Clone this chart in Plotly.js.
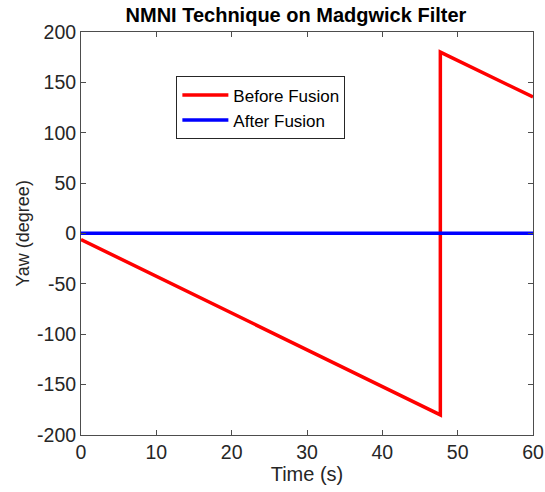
<!DOCTYPE html>
<html>
<head>
<meta charset="utf-8">
<script src="https://cdn.plot.ly/plotly-3.0.1.min.js"></script>
<style>html,body{margin:0;padding:0;background:#fff;}#chart{width:545px;height:492px;}</style>
</head>
<body>
<div id="chart"></div>
<script>
const beforeTime = [0, 47.7, 47.7, 60];
const beforeYaw = [-6, -180, 180, 135.5];
const afterTime = [0, 60];
const afterYaw = [0.3, 0.3];
const seriesNames = ["Before Fusion", "After Fusion"];
const xTicks = [0, 10, 20, 30, 40, 50, 60];
const yTicks = [-200, -150, -100, -50, 0, 50, 100, 150, 200];

const FONT = 'Liberation Sans, Arial, sans-serif';
const traces = [
  {x: beforeTime, y: beforeYaw, mode: 'lines', name: seriesNames[0], line: {color: '#ff0000', width: 3.5}},
  {x: afterTime, y: afterYaw, mode: 'lines', name: seriesNames[1], line: {color: '#0000ff', width: 3.5}}
];
const axisCommon = {
  showgrid: false, zeroline: false, showline: true, mirror: 'ticks',
  linecolor: '#4d4d4d', linewidth: 1, ticks: 'inside', ticklen: 5, tickcolor: '#4d4d4d',
  tickfont: {family: FONT, size: 19.5, color: '#262626'}
};
const layout = {
  width: 545, height: 492,
  margin: {l: 81, r: 12, t: 32, b: 57},
  paper_bgcolor: '#fff', plot_bgcolor: '#fff',
  title: {text: '<b>NMNI Technique on Madgwick Filter</b>', x: 0.543, xanchor: 'center', y: 0.969, yanchor: 'middle',
    font: {family: FONT, size: 20, color: '#000'}},
  xaxis: Object.assign({}, axisCommon, {range: [0, 60], tickvals: xTicks, ticktext: xTicks.map(String),
    title: {text: 'Time (s)', standoff: 0, font: {family: FONT, size: 20, color: '#262626'}}}),
  yaxis: Object.assign({}, axisCommon, {range: [-200, 200], tickvals: yTicks, ticktext: yTicks.map(String),
    title: {text: 'Yaw (degree)', standoff: 2, font: {family: FONT, size: 18, color: '#262626'}}}),
  showlegend: true,
  legend: {x: 0.211, y: 0.89, xanchor: 'left', yanchor: 'top', bgcolor: '#fff', bordercolor: '#262626', borderwidth: 1,
    font: {family: FONT, size: 17, color: '#000'}, tracegroupgap: 0, itemwidth: 46}
};
Plotly.newPlot('chart', traces, layout, {displayModeBar: false, staticPlot: true});
</script>
</body>
</html>
